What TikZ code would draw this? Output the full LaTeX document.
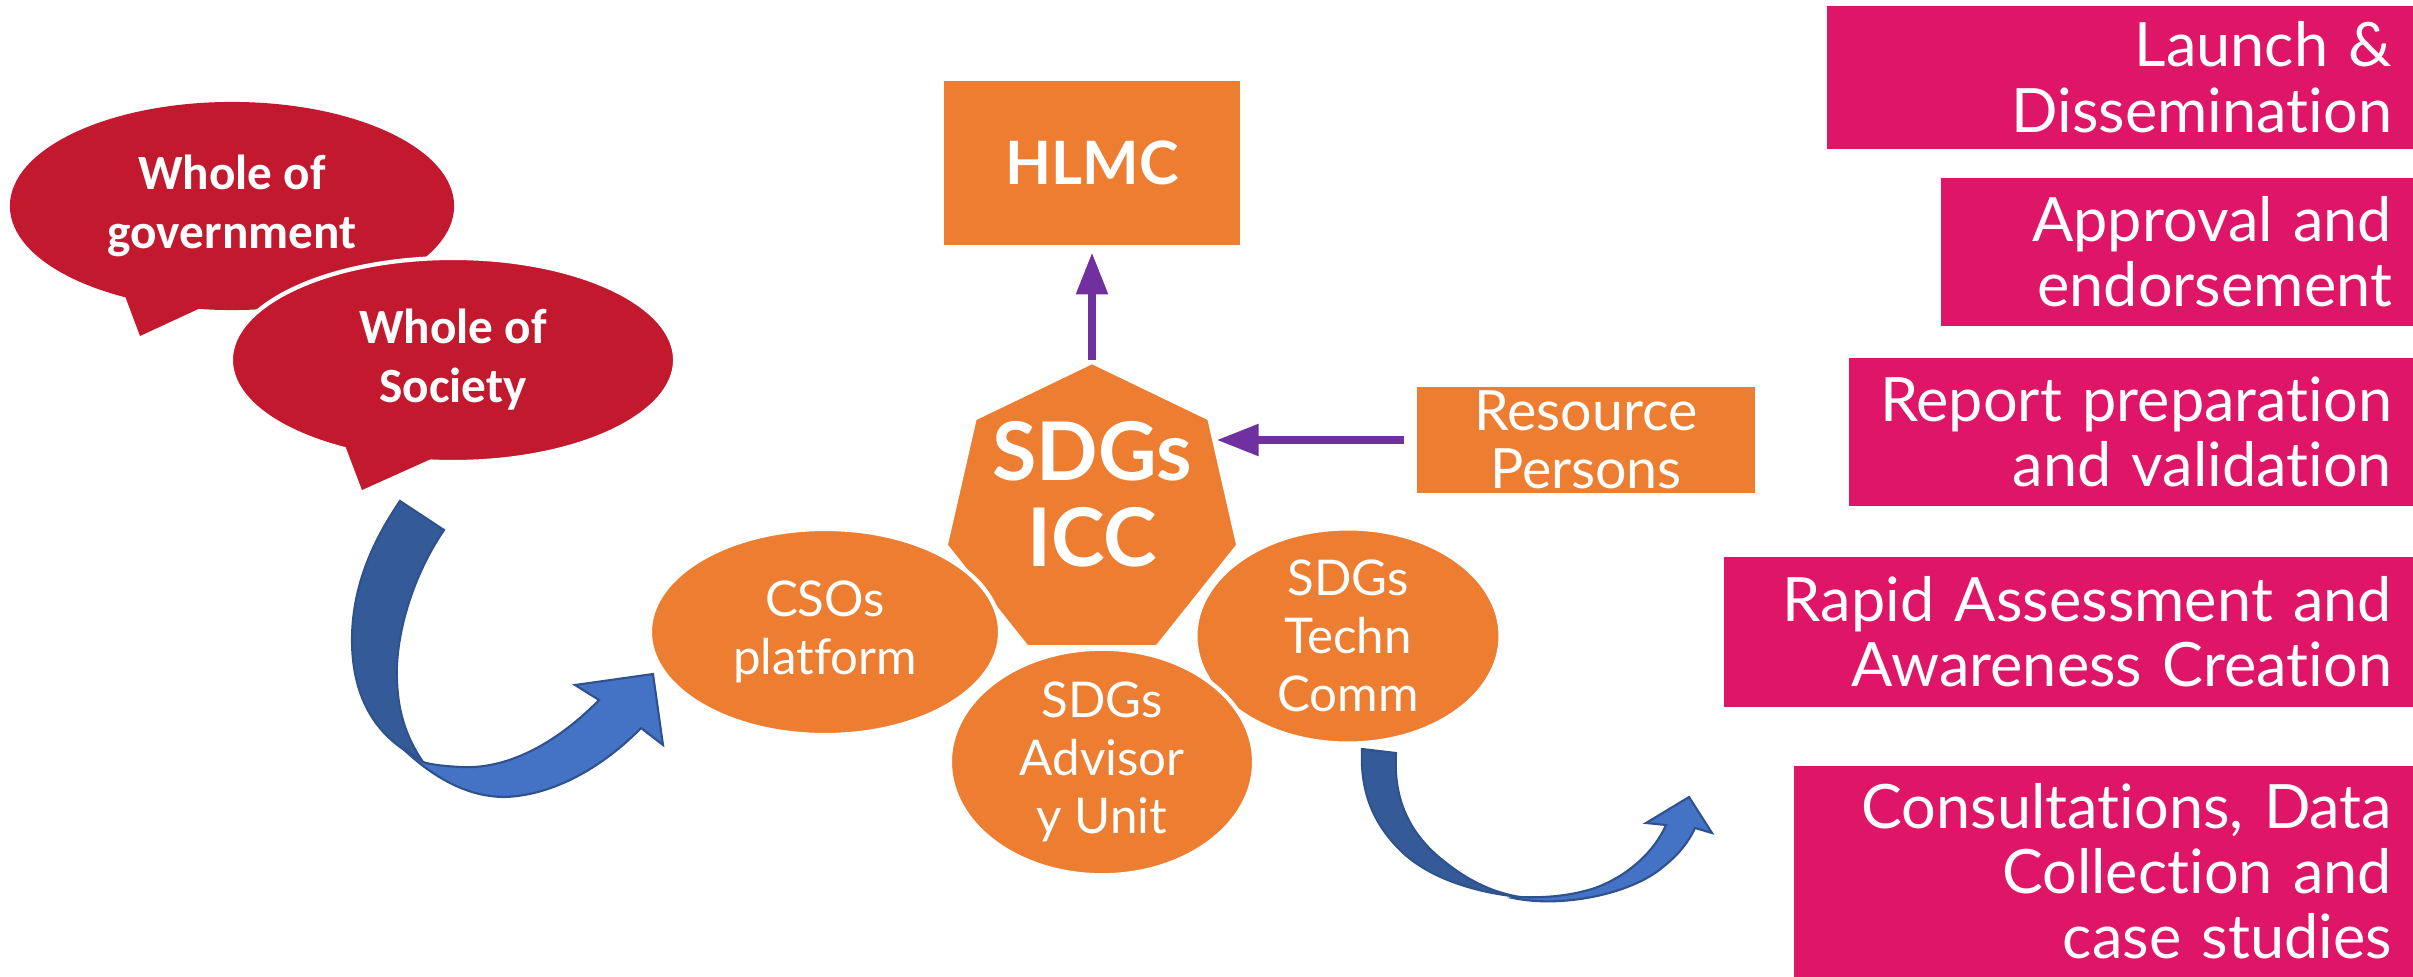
\documentclass[tikz,border=0pt]{standalone}
\usepackage{fontspec}
\setmainfont{Lato}[Ligatures=NoCommon]
\newfontfamily\bubblefont{Carlito}
\usetikzlibrary{positioning,calc,shapes.geometric,arrows.meta}

\definecolor{hlorange}{RGB}{237,125,49}
\definecolor{bubblered}{RGB}{195,25,46}
\definecolor{stagepink}{RGB}{223,21,103}
\definecolor{linkpurple}{RGB}{112,48,160}
\definecolor{turnblue}{RGB}{68,114,196}
\definecolor{turnbluedark}{RGB}{52,91,151}
\definecolor{turnedge}{RGB}{47,82,143}

\tikzset{
    orangebox/.style={rectangle, fill=hlorange, text=white, align=center, inner sep=0pt},
    orangeoval/.style={ellipse, fill=hlorange, draw=white, line width=1.2pt, text=white,
            align=center, inner sep=0pt, font=\fontsize{14}{16.5}\selectfont},
    hepta/.style={regular polygon, regular polygon sides=7, minimum size=3cm, inner sep=0pt,
            fill=hlorange, draw=white, line width=1.2pt},
    stagebox/.style={rectangle, fill=stagepink, text=white, align=right, anchor=north west,
            inner xsep=0.22cm, inner ysep=0pt, font=\fontsize{17.4}{18.5}\selectfont},
    bubble/.style={ellipse, fill=bubblered, text=white, align=center, inner sep=0pt,
            font=\bubblefont\bfseries\fontsize{14}{16.8}\selectfont},
    linkarrow/.style={draw=linkpurple, line width=2.3pt, -{Triangle[length=0.42cm,width=0.3cm]}},
    turnlight/.style={fill=turnblue, draw=turnedge, line width=0.6pt},
    turndark/.style={fill=turnbluedark, draw=turnedge, line width=0.6pt}
}

\begin{document}
\begin{tikzpicture}[x=0.01cm, y=-0.01cm]
    \useasboundingbox (0, 0) rectangle (2413, 976);

    % speech bubbles
    \node[bubble, minimum width=4.44cm, minimum height=2.08cm] (govbubble) at (232, 206) {Whole of\\government};
    \fill[bubblered] ($(govbubble) + (-110, 82)$) -- ($(govbubble) + (-92, 130)$) -- ($(govbubble) + (-25, 99)$) -- cycle;

    \node[bubble, draw=white, line width=1.2pt, minimum width=4.44cm, minimum height=2.04cm] (socbubble) at (453, 360) {Whole of\\Society};
    \fill[bubblered] ($(socbubble) + (-110, 80)$) -- ($(socbubble) + (-91, 130)$) -- ($(socbubble) + (-22, 99)$) -- cycle;

    % committees
    \node[orangebox, minimum width=2.95cm, minimum height=1.63cm,
        font=\bfseries\fontsize{17}{20}\selectfont] (hlmc) at (1092, 163) {HLMC};
    \node[hepta] (icc) at (1092, 512) {};
    \node[text=white, align=center, font=\bfseries\fontsize{23}{24.5}\selectfont] (icctext) at (1092, 494) {SDGs\\ICC};
    \node[orangebox, minimum width=3.38cm, minimum height=1.06cm,
        font=\fontsize{15.8}{16.5}\selectfont] (persons) at (1586, 440) {Resource\\Persons};

    \node[orangeoval, minimum width=3.5cm, minimum height=2.06cm] (csos) at (825, 632) {CSOs\\platform};
    \node[orangeoval, minimum width=3.05cm, minimum height=1.98cm] (techn) at (1348, 636) {SDGs\\Techn\\Comm};
    \node[orangeoval, minimum width=3.04cm, minimum height=2.2cm] (advisory) at (1102, 762) {SDGs\\Advisor\\y Unit};

    % links
    \draw[linkarrow, shorten >=0.07cm] (icc.corner 1) -- (hlmc.south);
    \draw[linkarrow, shorten <=0.12cm] (persons.west) -- (persons.west -| icc.30);

    % stages
    \foreach \name/\x/\y/\w/\h/\txt in {
            launch/1826/5/587/143/{Launch \&\\Dissemination},
            approval/1940/177/473/148/{Approval and\\endorsement},
            report/1848/357/565/148/{Report preparation\\and validation},
            rapid/1723/556/690/150/{Rapid Assessment and\\Awareness Creation},
            consult/1793/765/620/211/{Consultations, Data\\Collection and\\case studies}}
        {
            \pgfmathsetmacro\bw{\w/100}
            \pgfmathsetmacro\bh{\h/100}
            \pgfmathsetmacro\tw{\w/100 - 0.44}
            \node[stagebox, minimum width=\bw cm, minimum height=\bh cm, text width=\tw cm] (\name) at (\x, \y) {\txt};
        }

    % turning arrows
    \filldraw[turndark] (400, 501) -- (444, 530)
        .. controls (410, 580) and (395, 640) .. (397, 680)
        .. controls (398, 715) and (408, 740) .. (423, 762)
        -- (400, 747)
        .. controls (370, 725) and (352, 690) .. (352, 640)
        .. controls (352, 590) and (370, 545) .. (400, 501) -- cycle;
    \filldraw[turnlight] (400, 746)
        .. controls (430, 775) and (465, 797) .. (505, 797)
        .. controls (560, 795) and (610, 760) .. (641, 728)
        -- (663, 745) -- (653, 674) -- (575, 685) -- (599, 700)
        .. controls (560, 740) and (510, 770) .. (460, 767)
        .. controls (445, 766) and (432, 765) .. (423, 762) -- cycle;

    \filldraw[turndark] (1362, 749) -- (1396, 753)
        .. controls (1393, 800) and (1410, 835) .. (1445, 862)
        .. controls (1470, 882) and (1495, 893) .. (1520, 897)
        .. controls (1480, 893) and (1430, 880) .. (1400, 850)
        .. controls (1372, 822) and (1360, 790) .. (1362, 749) -- cycle;
    \filldraw[turnlight] (1513, 898)
        .. controls (1560, 908) and (1630, 895) .. (1663, 867)
        .. controls (1678, 855) and (1688, 843) .. (1695, 828)
        -- (1712, 833) -- (1689, 797) -- (1646, 823) -- (1666, 825)
        .. controls (1655, 850) and (1630, 875) .. (1595, 888)
        .. controls (1570, 896) and (1545, 898) .. (1520, 897) -- cycle;
\end{tikzpicture}
\end{document}
